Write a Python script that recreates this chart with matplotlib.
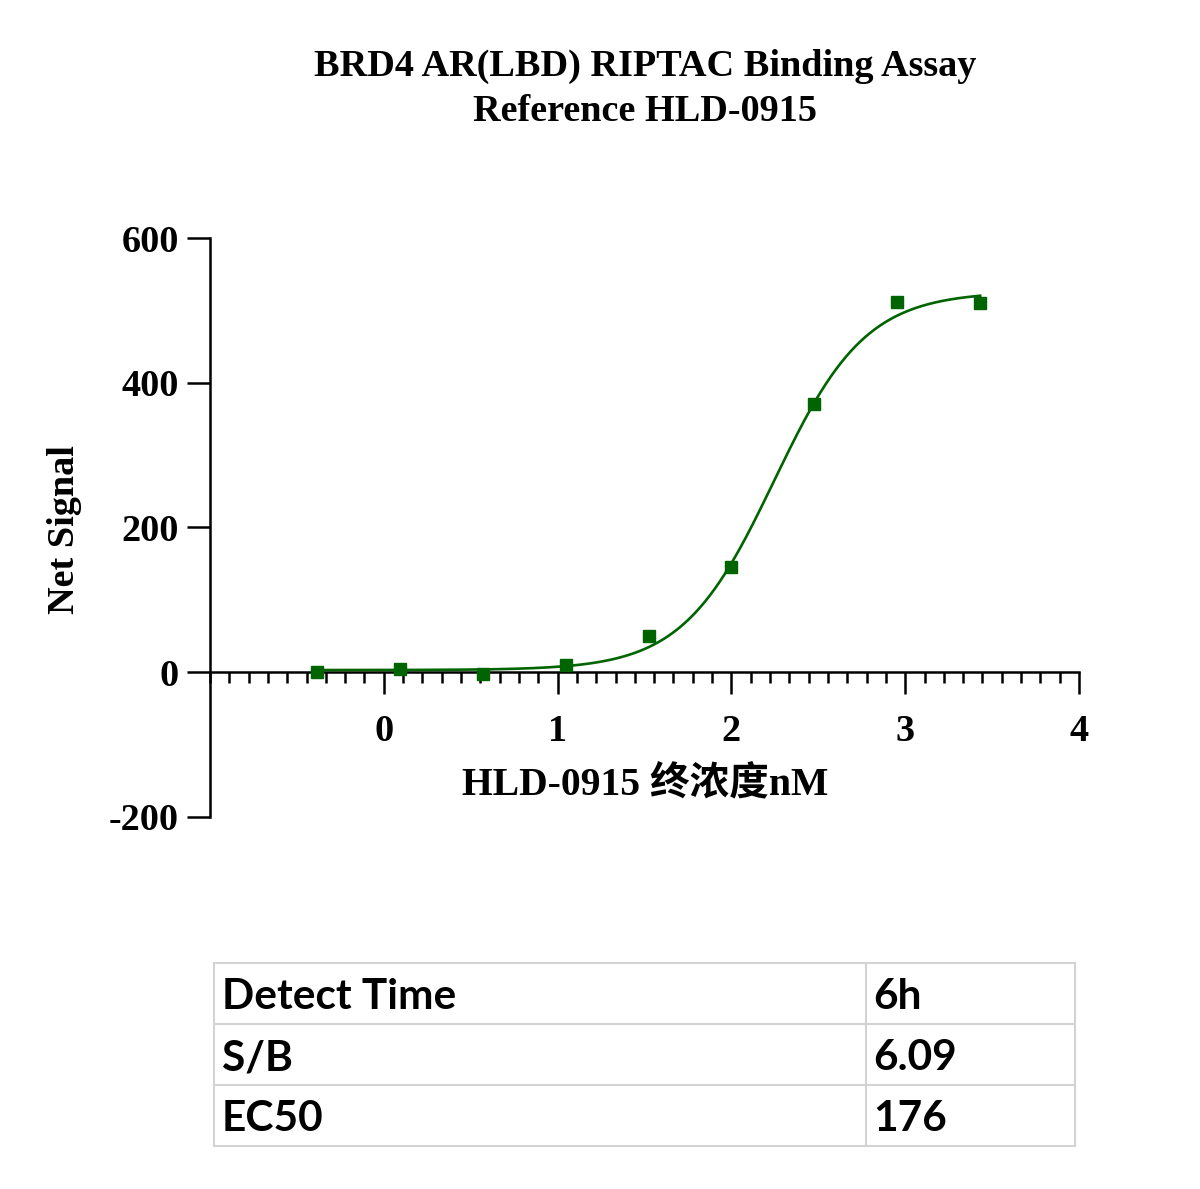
import numpy as np
import matplotlib.pyplot as plt
from matplotlib.ticker import AutoMinorLocator

# data
log_conc = [-0.385, 0.092, 0.569, 1.046, 1.523, 2.0, 2.477, 2.954, 3.431]   # log10 nM
net_signal = [1, 4, -2, 10, 50, 145, 370, 512, 510]

# fitted 4PL curve parameters
fit_bottom = 3
fit_top = 526
fit_ec50 = 176
fit_hill = 1.65

title = "BRD4 AR(LBD) RIPTAC Binding Assay\nReference HLD-0915"
x_label = "HLD-0915 终浓度nM"
y_label = "Net Signal"
x_ticks = [0, 1, 2, 3, 4]
y_ticks = [-200, 0, 200, 400, 600]

table_rows = [["Detect Time", "6h"],
              ["S/B", "6.09"],
              ["EC50", "176"]]

plt.rcParams['axes.unicode_minus'] = False
green = '#006400'
serif = ['Liberation Serif', 'Noto Sans CJK SC', 'DejaVu Sans']

fig = plt.figure(figsize=(12, 11.89), dpi=100)
ax = fig.add_axes([0.175, 0.3129, 0.7242, 0.4869])

xs = np.linspace(log_conc[0], log_conc[-1], 400)
ys = fit_bottom + (fit_top - fit_bottom) / (1 + 10 ** ((np.log10(fit_ec50) - xs) * fit_hill))
ax.plot(xs, ys, color=green, lw=1.9, zorder=3)
ax.plot(log_conc, net_signal, 's', color=green, ms=8, zorder=4, clip_on=False)

ax.set_xlim(-1, 4)
ax.set_ylim(-200, 600)
ax.spines['top'].set_visible(False)
ax.spines['right'].set_visible(False)
ax.spines['bottom'].set_position(('data', 0))
for s in ['left', 'bottom']:
    ax.spines[s].set_linewidth(1.8)

ax.set_xticks(x_ticks)
ax.set_yticks(y_ticks)
ax.xaxis.set_minor_locator(AutoMinorLocator(9))
ax.tick_params(axis='x', which='major', direction='out', length=16, width=1.8, pad=14)
ax.tick_params(axis='x', which='minor', direction='out', length=8, width=1.8)
ax.tick_params(axis='y', which='major', direction='out', length=16.5, width=1.8, pad=6)
for lab in ax.get_xticklabels() + ax.get_yticklabels():
    lab.set_family(serif)
    lab.set_fontweight('bold')
    lab.set_fontsize(27.5)

fig.text(0.5375, 1 - 89 / 1189, title, ha='center', va='center', family=serif,
         fontweight='bold', fontsize=27.5, linespacing=1.35)
fig.text(0.5375, 1 - 785 / 1189, x_label, ha='center', va='center', family=serif,
         fontweight='bold', fontsize=28.5)
fig.text(65 / 1200, 1 - 530 / 1189, y_label, ha='center', va='center', rotation=90,
         family=serif, fontweight='bold', fontsize=27.5)

# table under the chart
tax = fig.add_axes([214 / 1200, 1 - 1146 / 1189, (1075 - 214) / 1200, (1146 - 963) / 1189])
tax.set_xlim(214, 1075)
tax.set_ylim(len(table_rows), 0)
tax.axis('off')
line_c = '#d3d3d3'
for i in range(len(table_rows) + 1):
    tax.axhline(i, color=line_c, lw=1.5, clip_on=False)
for xv in [214, 866, 1075]:
    tax.axvline(xv, color=line_c, lw=1.5, clip_on=False)
for i, row in enumerate(table_rows):
    tax.text(222, i + 0.56, row[0], ha='left', va='center', family='Lato',
             fontweight='bold', fontsize=30.5)
    tax.text(873, i + 0.56, row[1], ha='left', va='center', family='Lato',
             fontweight='bold', fontsize=30.5)

fig.savefig('out.png', dpi=100)
